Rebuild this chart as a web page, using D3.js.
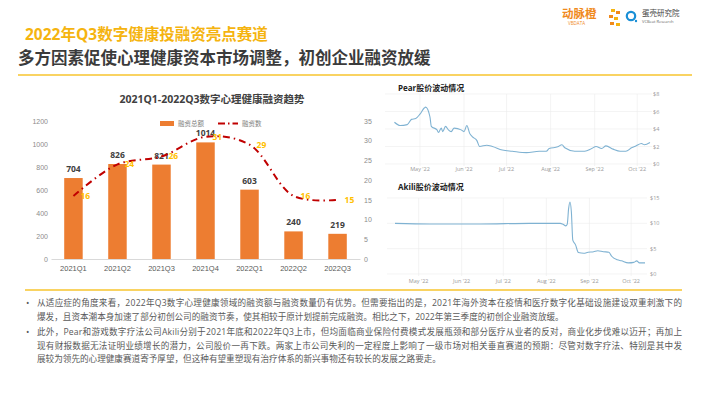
<!DOCTYPE html>
<html lang="zh">
<head>
<meta charset="UTF-8">
<title>数字心理健康融资</title>
<script src="https://cdn.jsdelivr.net/npm/d3@7"></script>
<style>
  body { margin: 0; background: #fff; }
  svg { font-family: "Open Sans", "Noto Sans CJK SC", sans-serif; }
  .grid line { stroke: #ececec; stroke-width: 0.6; }
  .tiny text { fill: #9a9a9a; font-size: 5.5px; }
</style>
</head>
<body>
<svg width="710" height="399"></svg>
<script>
// ---- data ----
var quarters = ["2021Q1", "2021Q2", "2021Q3", "2021Q4", "2022Q1", "2022Q2", "2022Q3"];
var amounts = [704, 826, 821, 1014, 603, 240, 219];   // 融资总额
var counts = [16, 24, 26, 31, 29, 16, 15];            // 融资数
var leftTicks = [0, 200, 400, 600, 800, 1000, 1200];
var rightTicks = [0, 5, 10, 15, 20, 25, 30, 35];

var pearDates = ["2022-04-13","2022-04-17","2022-04-22","2022-04-25","2022-04-28","2022-05-01","2022-05-04","2022-05-05",
  "2022-05-08","2022-05-09","2022-05-13","2022-05-14","2022-05-16","2022-05-17","2022-05-19","2022-05-21","2022-05-23",
  "2022-05-25","2022-05-30","2022-06-01","2022-06-03","2022-06-05","2022-06-07","2022-06-10","2022-06-12","2022-06-17",
  "2022-06-21","2022-06-28","2022-07-05","2022-07-15","2022-07-24","2022-07-29","2022-07-31","2022-08-06","2022-08-09",
  "2022-08-11","2022-08-18","2022-08-25","2022-08-30","2022-09-02","2022-09-06","2022-09-09","2022-09-14","2022-09-19",
  "2022-09-23","2022-09-27","2022-09-30","2022-10-04","2022-10-06","2022-10-10"];
var pearPrices = [4.77, 4.4, 4.5, 5.1, 5.2, 5.7, 6.4, 6.5, 5.4, 4.3, 3.9, 3.6, 4.1, 3.7, 4.3, 3.9, 3.7,
  4.1, 3.9, 3.7, 4.4, 3.5, 3.1, 2.7, 2.0, 2.15, 2.0, 1.6, 1.46, 1.3, 1.46, 1.46, 1.77, 1.96, 2.2,
  1.85, 1.46, 1.46, 1.77, 2.0, 1.77, 2.07, 1.7, 1.46, 1.46, 1.85, 2.07, 2.35, 2.2, 2.46];
var pearTicks = [0, 2, 4, 6, 8];

var akiliDates = ["2022-04-14","2022-05-09","2022-06-14","2022-07-20","2022-08-11","2022-08-13","2022-08-15","2022-08-16",
  "2022-08-17","2022-08-18","2022-08-19","2022-08-20","2022-08-22","2022-08-24","2022-08-28","2022-08-31","2022-09-04",
  "2022-09-07","2022-09-11","2022-09-15","2022-09-17","2022-09-21","2022-09-24","2022-09-29","2022-10-03","2022-10-05",
  "2022-10-07","2022-10-11"];
var akiliPrices = [10.0, 9.87, 9.87, 10.0, 10.0, 9.8, 9.5, 9.8, 12.9, 14.2, 12.2, 6.7, 5.75, 4.25, 4.1, 4.3, 4.4,
  4.6, 4.4, 4.3, 3.5, 2.8, 2.6, 2.2, 2.3, 2.6, 2.2, 2.2];
var akiliTicks = [0, 5, 10, 15];

var monthTicks = ["2022-05-01","2022-06-01","2022-07-01","2022-08-01","2022-09-01","2022-10-01"];

var bullets = [
  ["从适应症的角度来看，2022年Q3数字心理健康领域的融资额与融资数量仍有优势。但需要指出的是，2021年海外资本在疫情和医疗数字化基础设施建设双重刺激下的",
   "爆发，且资本潮本身加速了部分初创公司的融资节奏，使其相较于原计划提前完成融资。相比之下，2022年第三季度的初创企业融资放缓。"],
  ["此外，Pear和游戏数字疗法公司Akili分别于2021年底和2022年Q3上市，但均面临商业保险付费模式发展瓶颈和部分医疗从业者的反对，商业化步伐难以迈开；再加上",
   "现有财报数据无法证明业绩增长的潜力，公司股价一再下跌。两家上市公司失利的一定程度上影响了一级市场对相关垂直赛道的预期：尽管对数字疗法、特别是其中发",
   "展较为领先的心理健康赛道寄予厚望，但这种有望重塑现有治疗体系的新兴事物还有较长的发展之路要走。"]
];

var parse = d3.timeParse("%Y-%m-%d");
var svg = d3.select("svg");

// ---- header ----
svg.append("text").attr("x", 25).attr("y", 40)
  .attr("font-size", 15.5).attr("font-weight", "bold").attr("fill", "#F5B410")
  .text("2022年Q3数字健康投融资亮点赛道");
svg.append("text").attr("x", 18).attr("y", 64)
  .attr("font-size", 16.5).attr("font-weight", "bold").attr("fill", "#3b3b3b")
  .text("多方因素促使心理健康资本市场调整，初创企业融资放缓");
svg.append("line").attr("x1", 18).attr("x2", 692).attr("y1", 75).attr("y2", 75)
  .attr("stroke", "#F7C52E").attr("stroke-width", 1.5);

// logos
svg.append("text").attr("x", 562).attr("y", 18).attr("font-size", 11.5).attr("font-weight", "bold")
  .attr("fill", "#F08A1C").text("动脉橙");
svg.append("text").attr("x", 568).attr("y", 24.5).attr("font-size", 4.5).attr("fill", "#F08A1C").text("VBDATA");
[[611, 9, "#F5B410"], [616, 11, "#F08A1C"], [609, 15, "#F08A1C"], [614, 17, "#F5B410"], [610, 22, "#F08A1C"], [616, 23, "#F5B410"]]
  .forEach(function(d) {
    svg.append("rect").attr("x", d[0]).attr("y", d[1]).attr("width", 4).attr("height", 3).attr("fill", d[2]);
  });
svg.append("circle").attr("cx", 631).attr("cy", 16).attr("r", 4.2)
  .attr("fill", "none").attr("stroke", "#1A8FD6").attr("stroke-width", 2.2);
svg.append("circle").attr("cx", 636).attr("cy", 21).attr("r", 1.2).attr("fill", "#1A8FD6");
svg.append("text").attr("x", 642).attr("y", 16).attr("font-size", 7.5).attr("fill", "#444").text("蛋壳研究院");
svg.append("text").attr("x", 642).attr("y", 22.5).attr("font-size", 4).attr("fill", "#666").text("VCBeat Research");

// ---- left combo chart ----
var x = d3.scaleBand().domain(quarters).range([51, 360]).paddingInner(0.58).paddingOuter(0.3);
var yL = d3.scaleLinear().domain([0, 1200]).range([259, 121]);
var yR = d3.scaleLinear().domain([0, 35]).range([259, 121]);

svg.append("text").attr("x", 212).attr("y", 103).attr("text-anchor", "middle")
  .attr("font-size", 10.5).attr("font-weight", "bold").attr("fill", "#404040")
  .text("2021Q1-2022Q3数字心理健康融资趋势");

// legend
svg.append("rect").attr("x", 160).attr("y", 121).attr("width", 14).attr("height", 5).attr("fill", "#ED7D31");
svg.append("text").attr("x", 178).attr("y", 126).attr("font-size", 6.5).attr("fill", "#7f7f7f").text("融资总额");
svg.append("line").attr("x1", 218).attr("x2", 238).attr("y1", 123.5).attr("y2", 123.5)
  .attr("stroke", "#C00000").attr("stroke-width", 2).attr("stroke-dasharray", "7,3,1.5,3");
svg.append("text").attr("x", 242).attr("y", 126).attr("font-size", 6.5).attr("fill", "#7f7f7f").text("融资数");

var axL = svg.append("g").attr("transform", "translate(48,0)")
  .call(d3.axisLeft(yL).tickValues(leftTicks).tickFormat(d3.format("d")).tickSize(0).tickPadding(0));
var axR = svg.append("g").attr("transform", "translate(364,0)")
  .call(d3.axisRight(yR).tickValues(rightTicks).tickFormat(d3.format("d")).tickSize(0).tickPadding(0));
[axL, axR].forEach(function(a) {
  a.select(".domain").remove();
  a.selectAll("text").attr("fill", "#8c8c8c").attr("font-size", 7).attr("font-family", null);
});
var axX = svg.append("g").attr("transform", "translate(0,259)")
  .call(d3.axisBottom(x).tickSize(0).tickPadding(7));
axX.select(".domain").attr("stroke", "#d9d9d9");
axX.selectAll("text").attr("fill", "#595959").attr("font-size", 7.5).attr("font-family", null);

svg.selectAll(".bar").data(quarters).enter().append("rect")
  .attr("class", "bar")
  .attr("x", function(d) { return x(d); })
  .attr("y", function(d, i) { return yL(amounts[i]); })
  .attr("width", x.bandwidth())
  .attr("height", function(d, i) { return yL(0) - yL(amounts[i]); })
  .attr("fill", "#ED7D31");

svg.selectAll(".barlab").data(quarters).enter().append("text")
  .attr("x", function(d) { return x(d) + x.bandwidth() / 2; })
  .attr("y", function(d, i) { return yL(amounts[i]) - 6; })
  .attr("text-anchor", "middle").attr("font-size", 8.5).attr("font-weight", "bold").attr("fill", "#404040")
  .text(function(d, i) { return amounts[i]; });

var line = d3.line()
  .x(function(d, i) { return x(quarters[i]) + x.bandwidth() / 2; })
  .y(function(d) { return yR(d); })
  .curve(d3.curveCatmullRom.alpha(0.5));
svg.append("path").datum(counts).attr("d", line)
  .attr("fill", "none").attr("stroke", "#C00000").attr("stroke-width", 2)
  .attr("stroke-dasharray", "7,4,1.5,4");

svg.selectAll(".cntlab").data(counts).enter().append("text")
  .attr("x", function(d, i) { return x(quarters[i]) + x.bandwidth() / 2 + 7; })
  .attr("y", function(d) { return yR(d) + 3; })
  .attr("font-size", 8.5).attr("font-weight", "bold").attr("fill", "#FFC000")
  .text(function(d) { return d; });

// ---- stock charts ----
function stockChart(title, titleY, dates, prices, ticks, x0, x1, d0, d1, yTop, yBot, labX, xLabY) {
  var xs = d3.scaleTime().domain([parse(d0), parse(d1)]).range([x0, x1]);
  var ys = d3.scaleLinear().domain([0, d3.max(ticks)]).range([yBot, yTop]);
  var months = monthTicks.map(parse);
  svg.append("text").attr("x", 398).attr("y", titleY).attr("font-size", 8).attr("font-weight", "bold")
    .attr("fill", "#222").text(title);
  var g = svg.append("g").attr("class", "grid");
  g.selectAll(".h").data(ticks).enter().append("line")
    .attr("x1", x0 - 8).attr("x2", x1 + 2)
    .attr("y1", function(d) { return ys(d); }).attr("y2", function(d) { return ys(d); });
  g.selectAll(".v").data(months).enter().append("line")
    .attr("x1", function(d) { return xs(d); }).attr("x2", function(d) { return xs(d); })
    .attr("y1", yTop).attr("y2", yBot + 2);
  var t = svg.append("g").attr("class", "tiny");
  t.selectAll(".yl").data(ticks).enter().append("text")
    .attr("x", labX).attr("y", function(d) { return ys(d) + 2; })
    .text(function(d) { return "$" + d; });
  t.selectAll(".xl").data(months).enter().append("text")
    .attr("x", function(d) { return xs(d); }).attr("y", xLabY).attr("text-anchor", "middle")
    .text(d3.timeFormat("%b '%y"));
  var ln = d3.line()
    .x(function(d, i) { return xs(parse(dates[i])); })
    .y(function(d) { return ys(d); })
    .curve(d3.curveMonotoneX);
  svg.append("path").datum(prices).attr("d", ln)
    .attr("fill", "none").attr("stroke", "#7FB2D2").attr("stroke-width", 1.1);
}

stockChart("Pear股价波动情况", 91, pearDates, pearPrices, pearTicks, 393, 650, "2022-04-12", "2022-10-10", 94, 164, 653, 171);
stockChart("Akili股价波动情况", 190, akiliDates, akiliPrices, akiliTicks, 395, 645, "2022-04-14", "2022-10-11", 198, 274, 650, 283);

// ---- bottom text ----
svg.append("rect").attr("x", 0).attr("y", 286).attr("width", 710).attr("height", 113).attr("fill", "#fff");
svg.append("line").attr("x1", 25).attr("x2", 682).attr("y1", 290).attr("y2", 290)
  .attr("stroke", "#F7C52E").attr("stroke-width", 1.5);

var lineYs = [[306, 320], [335, 349, 362]];
bullets.forEach(function(b, bi) {
  svg.append("text").attr("x", 26).attr("y", lineYs[bi][0]).attr("font-size", 9).attr("fill", "#595959").text("•");
  b.forEach(function(s, li) {
    var t = svg.append("text").attr("x", 37).attr("y", lineYs[bi][li])
      .attr("font-size", 8.6).attr("fill", "#595959").text(s);
    if (li < b.length - 1) t.attr("textLength", 645).attr("lengthAdjust", "spacing");
  });
});
</script>
</body>
</html>
